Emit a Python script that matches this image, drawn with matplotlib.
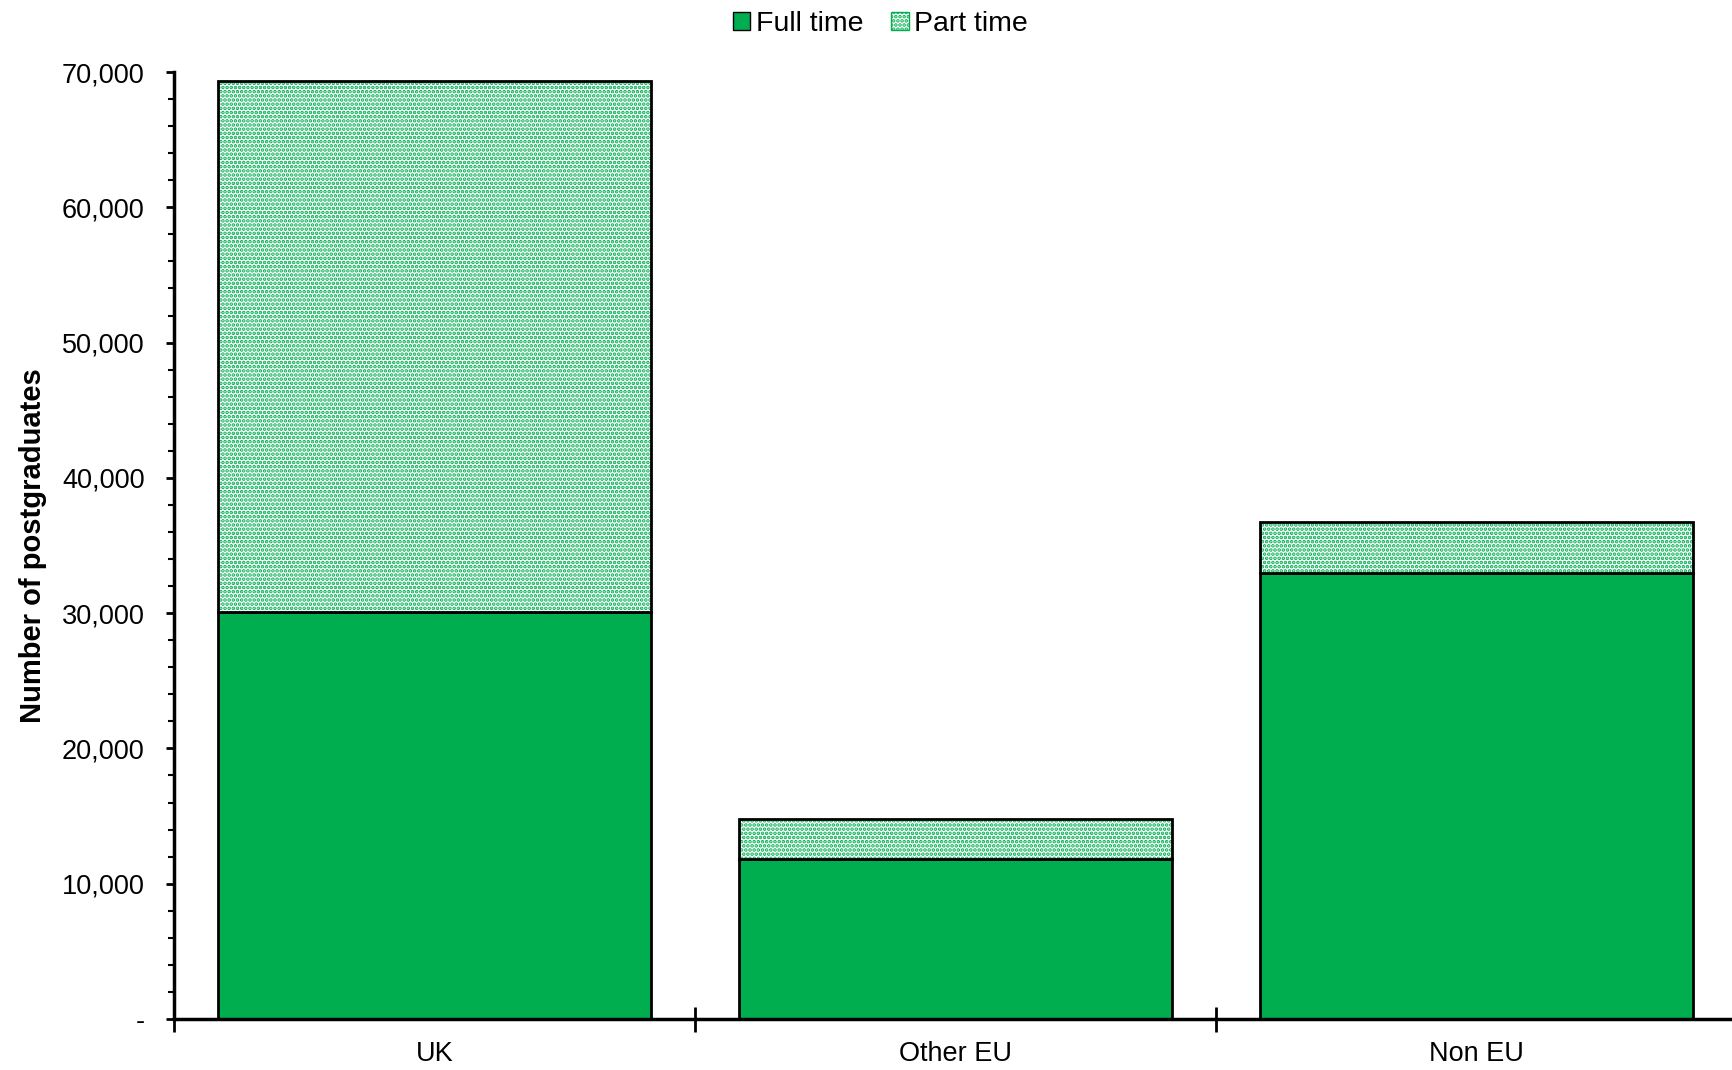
import matplotlib.pyplot as plt
from matplotlib.ticker import FuncFormatter, MultipleLocator
from matplotlib.patches import Patch

plt.rcParams['font.family'] = ['Liberation Sans', 'DejaVu Sans']
plt.rcParams['hatch.linewidth'] = 1.8

categories = ['UK', 'Other EU', 'Non EU']
full_time = [30100, 11850, 33000]
part_time = [39200, 2930, 3700]

green = '#00AE50'

fig = plt.figure(figsize=(17.33, 10.70), dpi=100)
ax = fig.add_axes([0.1004, 0.0477, 0.902, 0.885])

x = range(len(categories))
w = 0.83
ax.bar(x, full_time, width=w, color=green, edgecolor='black', linewidth=2, zorder=2)
# hatched part-time, then outline on top
ax.bar(x, part_time, width=w, bottom=full_time, color='white', edgecolor=green,
       hatch='....', linewidth=0, zorder=2)
ax.bar(x, part_time, width=w, bottom=full_time, fill=False, edgecolor='black',
       linewidth=2, zorder=3)

ax.set_xlim(-0.5, 2.5)
ax.set_ylim(0, 70000)
ax.yaxis.set_major_locator(MultipleLocator(10000))
ax.yaxis.set_minor_locator(MultipleLocator(2000))
ax.yaxis.set_major_formatter(FuncFormatter(lambda v, p: '-' if v == 0 else f'{v:,.0f}'))

ax.set_xticks([-0.5, 0.5, 1.5, 2.5])
ax.set_xticklabels([])
ax.set_xticks(list(x), minor=True)
ax.set_xticklabels(categories, minor=True, fontsize=19.5)
ax.tick_params(axis='x', which='major', direction='inout', length=18, width=2)
ax.tick_params(axis='x', which='minor', length=0, pad=16)
ax.tick_params(axis='y', which='major', direction='out', length=6, width=2, labelsize=19.5, pad=15)
ax.tick_params(axis='y', which='minor', direction='out', length=4, width=1.5)

for s in ['top', 'right']:
    ax.spines[s].set_visible(False)
for s in ['left', 'bottom']:
    ax.spines[s].set_linewidth(2.5)

ax.set_ylabel('Number of postgraduates', fontsize=21, fontweight='bold')
ax.yaxis.set_label_coords(-0.081, 0.5)

handles = [Patch(facecolor=green, edgecolor='black', linewidth=1),
           Patch(facecolor='white', edgecolor=green, hatch='....', linewidth=1)]
fig.legend(handles, ['Full time', 'Part time'], loc='upper center',
           bbox_to_anchor=(0.508, 1.014), ncol=2, frameon=False, fontsize=20.5,
           handlelength=0.6, handleheight=0.6, handletextpad=0.2, columnspacing=1.0)

fig.savefig('out.png', dpi=100)
